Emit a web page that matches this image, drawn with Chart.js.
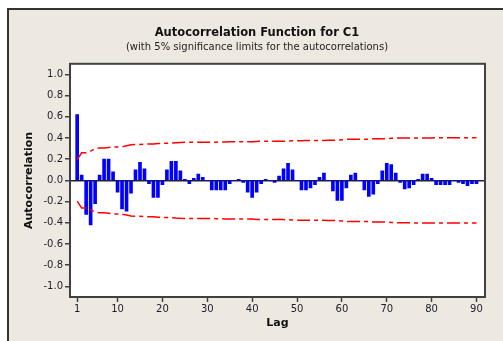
<!DOCTYPE html>
<html>
<head>
<meta charset="utf-8">
<script src="https://cdn.jsdelivr.net/npm/chart.js@4.4.1/dist/chart.umd.min.js"></script>
<style>
  html, body { margin: 0; padding: 0; background: #fff; }
  body { width: 503px; height: 341px; position: relative; overflow: hidden; }
  #frame { position: absolute; left: 7px; top: 8px; width: 520px; height: 360px; background: #EDE9E0; border: 2px solid #333; box-sizing: border-box; }
  #acf { position: absolute; left: 0; top: 0; }
</style>
</head>
<body>
<div id="frame"></div>
<canvas id="acf" width="503" height="341"></canvas>
<script>
const lags = [
  1, 2, 3, 4, 5, 6, 7, 8, 9, 10, 11, 12, 13, 14, 15, 16, 17, 18, 19, 20, 21, 22, 23, 24, 25, 26, 27, 28, 29, 30,
  31, 32, 33, 34, 35, 36, 37, 38, 39, 40, 41, 42, 43, 44, 45, 46, 47, 48, 49, 50, 51, 52, 53, 54, 55, 56, 57, 58, 59, 60,
  61, 62, 63, 64, 65, 66, 67, 68, 69, 70, 71, 72, 73, 74, 75, 76, 77, 78, 79, 80, 81, 82, 83, 84, 85, 86, 87, 88, 89, 90
];

// autocorrelations
const acfValues = [
  0.62, 0.05, -0.32, -0.42, -0.22, 0.05, 0.20, 0.20, 0.08, -0.11,
  -0.27, -0.29, -0.12, 0.10, 0.17, 0.11, -0.03, -0.16, -0.16, -0.04,
  0.10, 0.18, 0.18, 0.09, 0.01, -0.03, 0.02, 0.06, 0.03, 0.00,
  -0.09, -0.09, -0.09, -0.09, -0.03, 0.00, 0.01, -0.02, -0.11, -0.16,
  -0.11, -0.03, 0.01, 0.00, -0.02, 0.04, 0.11, 0.16, 0.10, 0.00,
  -0.09, -0.09, -0.07, -0.04, 0.03, 0.07, 0.00, -0.10, -0.19, -0.19,
  -0.07, 0.05, 0.07, 0.00, -0.09, -0.15, -0.13, -0.03, 0.09, 0.16,
  0.15, 0.07, -0.02, -0.08, -0.07, -0.04, 0.01, 0.06, 0.06, 0.02,
  -0.04, -0.04, -0.04, -0.04, 0.00, -0.02, -0.03, -0.05, -0.03, -0.03
];

// upper 5% significance limit, lower one is the mirror
const upperLimits = [
  0.196, 0.261, 0.261, 0.276, 0.299, 0.305, 0.306, 0.311, 0.316, 0.316,
  0.318, 0.327, 0.336, 0.338, 0.339, 0.342, 0.344, 0.344, 0.347, 0.350,
  0.350, 0.351, 0.355, 0.358, 0.359, 0.359, 0.359, 0.360, 0.360, 0.360,
  0.360, 0.361, 0.362, 0.363, 0.364, 0.364, 0.364, 0.364, 0.364, 0.365,
  0.368, 0.369, 0.370, 0.370, 0.370, 0.370, 0.370, 0.371, 0.374, 0.375,
  0.375, 0.376, 0.377, 0.377, 0.377, 0.377, 0.378, 0.378, 0.379, 0.383,
  0.387, 0.388, 0.388, 0.388, 0.388, 0.389, 0.392, 0.393, 0.393, 0.394,
  0.397, 0.399, 0.399, 0.400, 0.400, 0.401, 0.401, 0.401, 0.401, 0.401,
  0.402, 0.402, 0.402, 0.402, 0.402, 0.402, 0.403, 0.403, 0.403, 0.403
];

const yTicks = [-1, -0.8, -0.6, -0.4, -0.2, 0, 0.2, 0.4, 0.6, 0.8, 1];
const xTicks = [1, 10, 20, 30, 40, 50, 60, 70, 80, 90];

const fontFamily = 'DejaVu Sans';
const textColor = '#1c1c2c';
const frameColor = '#404040';

// white plot area + closed black frame like minitab
const plotFrame = {
  id: 'plotFrame',
  beforeDraw(chart) {
    const { ctx, chartArea: a } = chart;
    ctx.save();
    ctx.fillStyle = '#ffffff';
    ctx.fillRect(a.left, a.top, a.right - a.left, a.bottom - a.top);
    ctx.restore();
  },
  afterDraw(chart) {
    const { ctx, chartArea: a } = chart;
    ctx.save();
    ctx.strokeStyle = frameColor;
    ctx.lineWidth = 2;
    ctx.strokeRect(a.left, a.top, a.right - a.left, a.bottom - a.top);
    ctx.restore();
  }
};

const acfPoints = lags.map((lag, i) => ({ x: lag, y: acfValues[i] }));
const upperPoints = lags.map((lag, i) => ({ x: lag, y: upperLimits[i] }));
const lowerPoints = lags.map((lag, i) => ({ x: lag, y: -upperLimits[i] }));

const limitStyle = {
  type: 'line',
  borderColor: '#ff0000',
  borderWidth: 1.5,
  borderDash: [13, 4, 4, 4],
  pointRadius: 0,
  fill: false,
  tension: 0
};

const config = {
  type: 'bar',
  data: {
    datasets: [
      { ...limitStyle, label: 'Upper limit', data: upperPoints },
      { ...limitStyle, label: 'Lower limit', data: lowerPoints },
      { label: 'ACF', data: acfPoints, backgroundColor: '#0000ff', borderWidth: 0, barThickness: 3 }
    ]
  },
  options: {
    responsive: false,
    animation: false,
    layout: { padding: { left: 29, right: 18, top: 0, bottom: 11 } },
    scales: {
      x: {
        type: 'linear',
        min: -0.6,
        max: 91.9,
        offset: false,
        afterBuildTicks: axis => { axis.ticks = xTicks.map(v => ({ value: v })); },
        afterFit: axis => { axis.height = 33; },
        grid: { drawOnChartArea: false, offset: false, tickLength: 5, tickColor: frameColor, tickWidth: 1.5 },
        border: { display: false },
        ticks: {
          autoSkip: false,
          maxRotation: 0,
          padding: 1,
          color: textColor,
          font: { family: fontFamily, size: 10 },
          callback: v => String(v)
        },
        title: {
          display: true,
          text: 'Lag',
          color: '#111',
          font: { family: fontFamily, size: 11, weight: 'bold' },
          padding: { top: 0, bottom: 0 }
        }
      },
      y: {
        min: -1.1,
        max: 1.1,
        afterBuildTicks: axis => { axis.ticks = yTicks.map(v => ({ value: v })); },
        afterFit: axis => { axis.width = 41; },
        grid: {
          color: ctx => (ctx.tick && ctx.tick.value === 0 ? '#1e1e3c' : 'rgba(0,0,0,0)'),
          lineWidth: 1.5,
          tickLength: 5,
          tickColor: frameColor,
          tickWidth: 1.5
        },
        border: { display: false },
        ticks: {
          padding: 2,
          color: textColor,
          font: { family: fontFamily, size: 10 },
          callback: v => v.toFixed(1)
        },
        title: {
          display: true,
          text: 'Autocorrelation',
          color: '#111',
          font: { family: fontFamily, size: 11, weight: 'bold' },
          padding: { top: -6, bottom: 0 }
        }
      }
    },
    plugins: {
      legend: { display: false },
      tooltip: { enabled: false },
      title: {
        display: true,
        text: 'Autocorrelation Function for C1',
        color: '#111',
        font: { family: fontFamily, size: 11.5, weight: 'bold' },
        padding: { top: 26, bottom: 2 }
      },
      subtitle: {
        display: true,
        text: '(with 5% significance limits for the autocorrelations)',
        color: '#222',
        font: { family: fontFamily, size: 10 },
        padding: { top: 0, bottom: 10 }
      }
    }
  },
  plugins: [plotFrame]
};

const acfChart = new Chart(document.getElementById('acf'), config);
</script>
</body>
</html>
